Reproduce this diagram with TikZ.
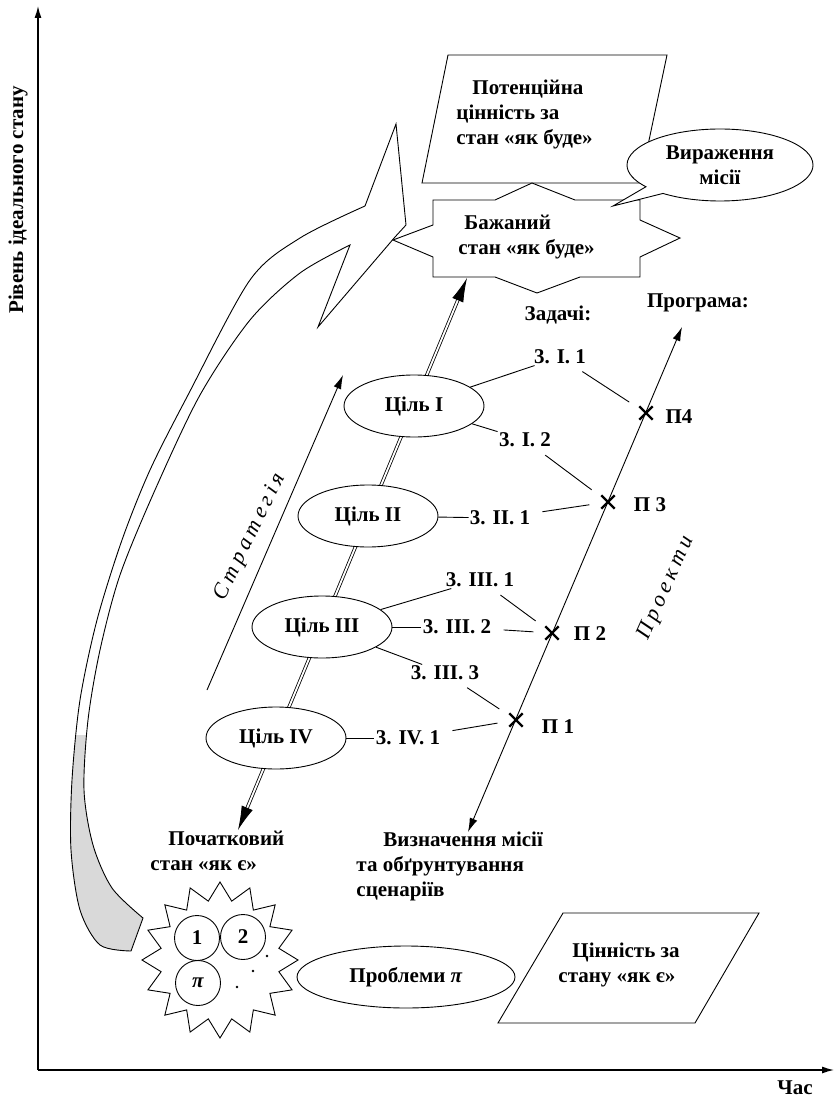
\documentclass[tikz,border=0pt]{standalone}
\usepackage{fontspec}
\setmainfont{Liberation Serif}
\newfontfamily\spacedfont{Liberation Serif}[LetterSpace=20]
\usetikzlibrary{arrows.meta,shapes.geometric,shapes.misc,shapes.callouts}

\begin{document}
\begin{tikzpicture}[x=1pt,y=-1pt,line width=0.9pt,
  font=\fontsize{21}{25}\selectfont\bfseries,
  spaced/.style={font=\spacedfont\itshape\fontsize{22}{25}\selectfont},
  txt/.style={align=left,anchor=west,inner sep=0pt},
  axishead/.tip={Latex[length=12pt,width=7pt]},
  spinehead/.tip={Latex[length=24pt,width=12pt]},
  linehead/.tip={Latex[length=14pt,width=8pt]}]
\useasboundingbox (0,0) rectangle (835,1102);

\coordinate (o) at (38,1070);
\coordinate (ytop) at (38,6);
\coordinate (xend) at (834,1070);
\draw[line width=1.3pt,-axishead] (o) -- (ytop);
\draw[line width=1.3pt,-axishead] (o) -- (xend);
\node[rotate=90] (ylab) at (18,200) {Рівень ідеального стану};
\node (xlab) at (795,1088) {Час};

\draw (448,55) -- (667,55) -- (640,183) -- (422,183) -- cycle;
\node[txt] (potval) at (456,114) {\hspace*{16pt}Потенційна\\цінність за\\стан «як буде»};

\draw (563,913) -- (759,913) -- (695,1023) -- (498,1023) -- cycle;
\node[txt] (curval) at (558,965) {\hspace*{14pt}Цінність за\\стану «як є»};

\node[star,star points=16,star point ratio=1.3,draw,fill=white,minimum size=156pt,inner sep=0pt] (sun) at (220,960) {};
\begin{scope}[every node/.style={circle,draw,minimum size=45pt,inner sep=0pt}]
\node (s1) at (197,938) {1};
\node (s2) at (243,937) {2};
\node (sp) at (198,983) {\textit{π}};
\end{scope}
\fill (267,956) circle (1.3pt);
\fill (253,971) circle (1.3pt);
\fill (237,987) circle (1.3pt);
\node[ellipse,draw,minimum width=218pt,minimum height=62pt] (prob) at (406,977) {Проблеми \textit{π}};
\node[txt] (initlab) at (150,851) {\hspace*{18pt}Початковий\\стан «як є»};

\def\swoosh{plot[smooth] coordinates {(131,951) (100,945) (80,910) (71,850) (72,780) (80,700) (97,620) (122,540) (150,470) (188,395) (250,280) (300,238) (365,206)}
  -- (396,124) -- (406,225) -- (395,237) -- (318,327) -- (350,245)
  -- plot[smooth] coordinates {(350,245) (300,273) (250,320) (200,395) (155,490) (120,575) (100,650) (88,720) (84,790) (93,845) (112,888) (143,918)} -- cycle}
\fill[white] \swoosh;
\begin{scope}
\clip (0,735) rectangle (200,1000);
\fill[gray!30] \swoosh;
\end{scope}
\draw \swoosh;

\draw[fill=white] (433,200) -- (495,200) -- (532,183) -- (575,200) -- (640,200) -- (640,220) -- (680,238) -- (640,257) -- (640,277) -- (580,277) -- (537,293) -- (495,277) -- (433,277) -- (433,257) -- (393,240) -- (433,225) -- cycle;
\node[txt] (wishlab) at (458,237) {\hspace*{6pt}Бажаний\\стан «як буде»};

\node[ellipse callout,draw,fill=white,callout absolute pointer={(613,206)},minimum width=186pt,minimum height=72pt,align=center] (mission) at (720,165) {Вираження\\місії};

\node (tasks) at (558,315) {Задачі:};
\node (program) at (698,303) {Програма:};
\node[txt] (mislab) at (356,866) {\hspace*{27pt}Визначення місії\\та обґрунтування\\сценаріїв};

\coordinate (init) at (238,830);
\coordinate (wish) at (467,278);
\draw[double,double distance=1.8pt,line width=0.8pt,spinehead-spinehead] (init) -- (wish);

\coordinate (sbot) at (207,690);
\coordinate (stop) at (343,375);
\draw[-linehead] (sbot) -- (stop);
\node[spaced,rotate=64] (strat) at (250,537) {Стратегія};

\coordinate (pbot) at (468,832);
\coordinate (ptop) at (682,327);
\draw[linehead-linehead] (pbot) -- (ptop);
\node[spaced,rotate=66] (projlab) at (666,588) {Проекти};

\begin{scope}[every node/.style={ellipse,draw,fill=white,minimum width=140pt,minimum height=62pt,inner sep=0pt}]
\node (g1) at (414,406) {Ціль I};
\node (g2) at (368,516) {Ціль II};
\node (g3) at (322,627) {Ціль III};
\node (g4) at (276,738) {Ціль IV};
\end{scope}

\begin{scope}[every node/.style={inner sep=1pt}]
\node (t11) at (560,357) {3. I. 1};
\node (t12) at (525,440) {3. I. 2};
\node (t21) at (500,518) {3. II. 1};
\node (t31) at (480,580) {3. III. 1};
\node (t32) at (457,627) {3. III. 2};
\node (t33) at (445,673) {3. III. 3};
\node (t41) at (408,738) {3. IV. 1};
\end{scope}

\begin{scope}[every node/.style={cross out,draw,line width=2.4pt,minimum size=11pt,inner sep=0pt}]
\node (p1) at (516,720) {};
\node (p2) at (552,633) {};
\node (p3) at (608,502) {};
\node (p4) at (646,413) {};
\end{scope}
\node (l1) at (558,727) {П 1};
\node (l2) at (590,634) {П 2};
\node (l3) at (650,505) {П 3};
\node (l4) at (679,417) {П4};

\path (g1) edge (t11);
\path (g1) edge (t12);
\path (g2) edge (t21);
\path (g3) edge (t31);
\path (g3) edge (t32);
\path (g3) edge (t33);
\path (g4) edge (t41);

\begin{scope}[shorten <=11pt,shorten >=12pt]
\path (t11) edge (p4);
\path (t12) edge (p3);
\path (t21) edge (p3);
\path (t31) edge (p2);
\path (t32) edge (p2);
\path (t33) edge (p1);
\path (t41) edge (p1);
\end{scope}
\end{tikzpicture}
\end{document}
